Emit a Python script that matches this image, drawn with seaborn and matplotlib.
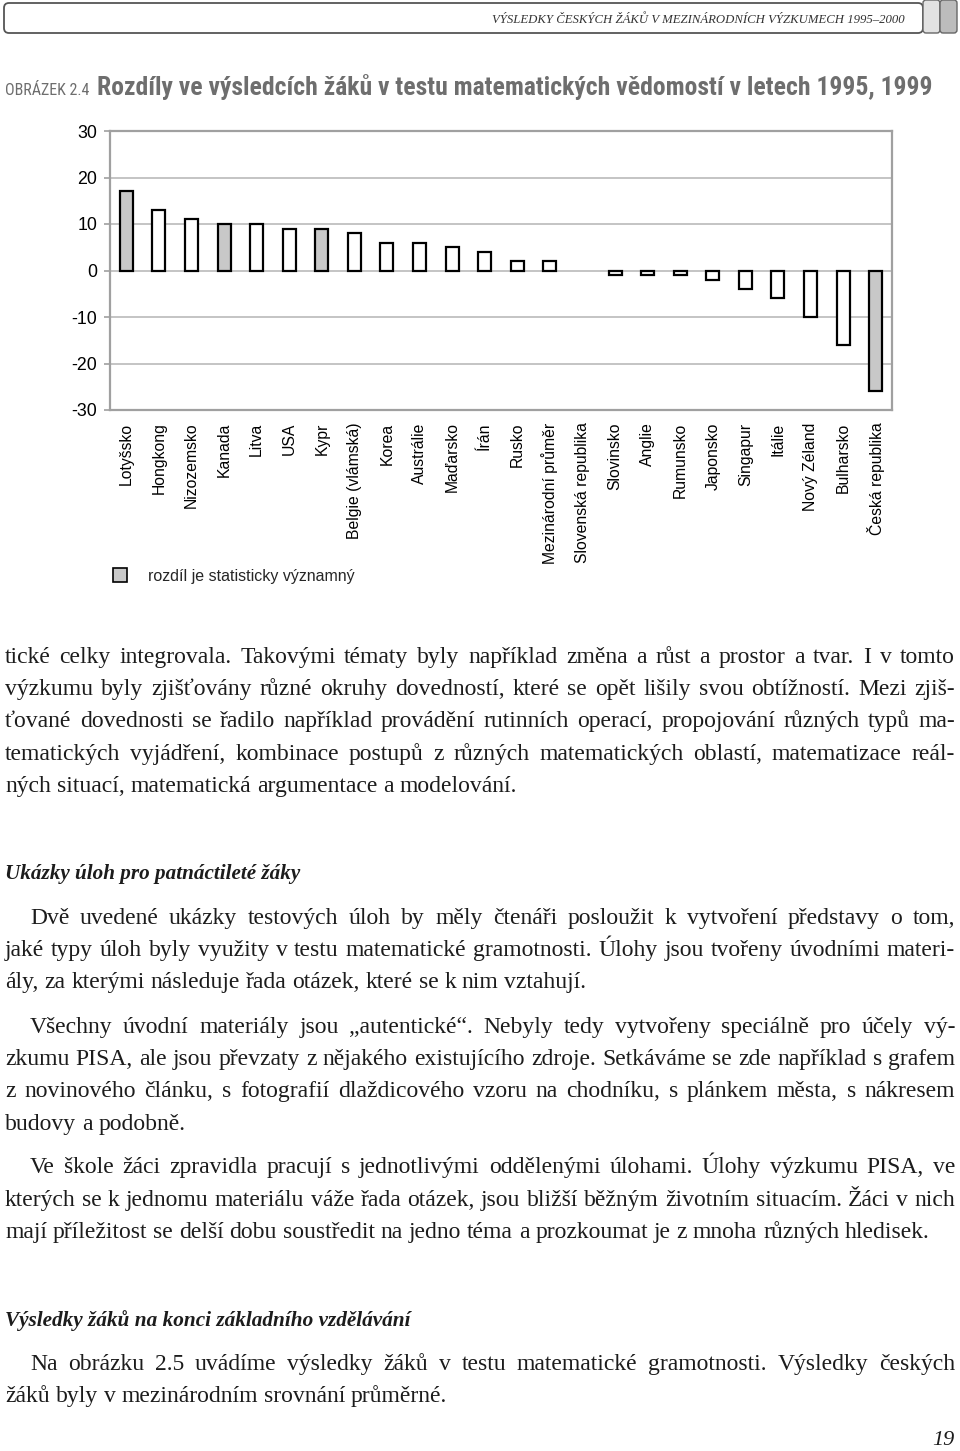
import numpy as np
import pandas as pd
import matplotlib
matplotlib.use("Agg")
import matplotlib.pyplot as plt
import seaborn as sns
from matplotlib import font_manager
from matplotlib.patches import FancyBboxPatch, Rectangle, Patch

# ---------------- data ----------------
countries = ["Lotyšsko", "Hongkong", "Nizozemsko", "Kanada", "Litva", "USA", "Kypr",
             "Belgie (vlámská)", "Korea", "Austrálie", "Maďarsko", "Írán", "Rusko",
             "Mezinárodní průměr", "Slovenská republika", "Slovinsko", "Anglie",
             "Rumunsko", "Japonsko", "Singapur", "Itálie", "Nový Zéland", "Bulharsko",
             "Česká republika"]
values = [17, 13, 11, 10, 10, 9, 9, 8, 6, 6, 5, 4, 2, 2, 0, -1, -1, -1, -2, -4, -6,
          -10, -16, -26]
significant = [True, False, False, True, False, False, True, False, False, False,
               False, False, False, False, False, False, False, False, False, False,
               False, False, False, True]
y_ticks = [-30, -20, -10, 0, 10, 20, 30]
legend_label = "rozdíl je statisticky významný"

header_text = "VÝSLEDKY ČESKÝCH ŽÁKŮ V MEZINÁRODNÍCH VÝZKUMECH 1995–2000"
fig_label = "OBRÁZEK 2.4"
title_text = "Rozdíly ve výsledcích žáků v testu matematických vědomostí v letech 1995, 1999"

par1 = ["tické celky integrovala. Takovými tématy byly například změna a růst a prostor a tvar. I v tomto",
        "výzkumu byly zjišťovány různé okruhy dovedností, které se opět lišily svou obtížností. Mezi zjiš-",
        "ťované dovednosti se řadilo například provádění rutinních operací, propojování různých typů ma-",
        "tematických vyjádření, kombinace postupů z různých matematických oblastí, matematizace reál-",
        "ných situací, matematická argumentace a modelování."]
head1 = "Ukázky úloh pro patnáctileté žáky"
par2 = ["Dvě uvedené ukázky testových úloh by měly čtenáři posloužit k vytvoření představy o tom,",
        "jaké typy úloh byly využity v testu matematické gramotnosti. Úlohy jsou tvořeny úvodními materi-",
        "ály, za kterými následuje řada otázek, které se k nim vztahují."]
par3 = ["Všechny úvodní materiály jsou „autentické“. Nebyly tedy vytvořeny speciálně pro účely vý-",
        "zkumu PISA, ale jsou převzaty z nějakého existujícího zdroje. Setkáváme se zde například s grafem",
        "z novinového článku, s fotografií dlaždicového vzoru na chodníku, s plánkem města, s nákresem",
        "budovy a podobně."]
par4 = ["Ve škole žáci zpravidla pracují s jednotlivými oddělenými úlohami. Úlohy výzkumu PISA, ve",
        "kterých se k jednomu materiálu váže řada otázek, jsou bližší běžným životním situacím. Žáci v nich",
        "mají příležitost se delší dobu soustředit na jedno téma a prozkoumat je z mnoha různých hledisek."]
head2 = "Výsledky žáků na konci základního vzdělávání"
par5 = ["Na obrázku 2.5 uvádíme výsledky žáků v testu matematické gramotnosti. Výsledky českých",
        "žáků byly v mezinárodním srovnání průměrné."]
page_no = "19"

# ---------------- setup ----------------
W, H = 960, 1451
sns.set_theme(style="white")
avail = {f.name for f in font_manager.fontManager.ttflist}


def pick(cands, default):
    for c in cands:
        if c in avail:
            return c
    return default


sans = pick(["Liberation Sans", "Arial"], "DejaVu Sans")
narrow = pick(["Liberation Sans Narrow", "Roboto Condensed", "DejaVu Sans Condensed"], sans)
serif = pick(["Liberation Serif", "DejaVu Serif"], "DejaVu Serif")
plt.rcParams["font.family"] = [sans, "DejaVu Sans"]

fig = plt.figure(figsize=(W / 100, H / 100), dpi=100)
fig.patch.set_facecolor("white")
renderer = fig.canvas.get_renderer()


def measure(s, **props):
    t = fig.text(0, 0, s, **props)
    w = t.get_window_extent(renderer).width
    t.remove()
    return w


def fx(px):
    return px / W


def fy(py):
    return 1 - py / H


def fit(s, target, base=20, **props):
    return base * target / measure(s, fontsize=base, **props)


# ---------------- header ----------------
box = FancyBboxPatch((0.04, (H - 33) / 100), 9.19, 0.30,
                     boxstyle="round,pad=0,rounding_size=0.05",
                     transform=fig.dpi_scale_trans, facecolor="white",
                     edgecolor="#555555", linewidth=1.3)
fig.patches.append(box)
g1 = FancyBboxPatch((9.23, (H - 33) / 100), 0.17, 0.33,
                    boxstyle="round,pad=0,rounding_size=0.03",
                    transform=fig.dpi_scale_trans, facecolor="#e2e2e2",
                    edgecolor="#666666", linewidth=1.0)
g2 = FancyBboxPatch((9.40, (H - 33) / 100), 0.17, 0.33,
                    boxstyle="round,pad=0,rounding_size=0.03",
                    transform=fig.dpi_scale_trans, facecolor="#bcbcbc",
                    edgecolor="#666666", linewidth=1.0)
fig.patches.extend([g1, g2])

hprops = dict(family=[serif], style="italic")
hs = fit(header_text, 410, **hprops)
fig.text(fx(905), fy(23), header_text, ha="right", va="baseline", fontsize=hs,
         color="#333333", **hprops)

# ---------------- title ----------------
tprops = dict(family=[narrow], weight="bold", stretch="condensed")
ts = fit(title_text, 833, **tprops)
fig.text(fx(97), fy(95), title_text, ha="left", va="baseline", fontsize=ts,
         color="#6e6e6e", **tprops)
lprops = dict(family=[narrow], stretch="condensed")
ls = fit(fig_label, 85, **lprops)
fig.text(fx(5), fy(95), fig_label, ha="left", va="baseline", fontsize=ls,
         color="#6e6e6e", **lprops)

# ---------------- chart ----------------
df = pd.DataFrame({"country": countries, "value": values,
                   "sig": ["ano" if s else "ne" for s in significant]})
ax = fig.add_axes([110 / W, 1 - 410 / H, 782 / W, 279 / H])
sns.barplot(data=df, x="country", y="value", hue="sig", order=countries,
            palette={"ano": "#c8c8c8", "ne": "white"}, dodge=False, width=0.4,
            edgecolor="black", linewidth=1.6, legend=False, ax=ax, zorder=3)
for p in ax.patches:
    if abs(p.get_height()) < 1e-9:
        p.set_linewidth(0)
ax.set_ylim(-30, 30)
ax.set_yticks(y_ticks)
ax.set_yticklabels([str(v) for v in y_ticks])
ax.set_xlim(-0.5, len(countries) - 0.5)
ax.set_xlabel("")
ax.set_ylabel("")
ax.grid(axis="y", color="#b4b4b4", linewidth=1.1, zorder=0)
ax.set_axisbelow(True)
for sp in ax.spines.values():
    sp.set_visible(True)
    sp.set_color("#a0a0a0")
    sp.set_linewidth(1.6)
ax.tick_params(axis="y", which="both", left=True, length=4, width=1.2,
               color="#a0a0a0", pad=5, labelsize=12.8, labelcolor="black")
ax.tick_params(axis="x", length=0, pad=9, labelsize=11.3, labelcolor="black")
for lab in ax.get_xticklabels():
    lab.set_rotation(90)
    lab.set_ha("center")
    lab.set_va("top")
ax.set_facecolor("white")

fig.legend(handles=[Patch(facecolor="#c8c8c8", edgecolor="black", linewidth=1.2,
                          label=legend_label)],
           loc="center left", bbox_to_anchor=(113 / W, fy(576)), frameon=False,
           fontsize=11.5, handlelength=0.9, handleheight=0.9, handletextpad=1.3,
           borderpad=0, borderaxespad=0)

# ---------------- body text ----------------
body = dict(family=[serif, "DejaVu Serif"])
all_lines = par1[:-1] + par2[:-1] + par3[:-1] + par4[:-1] + par5[:-1]
base = 16
maxw = max(measure(l, fontsize=base, **body) for l in all_lines)
bs = min(17.0, base * 946 / maxw)
bprops = dict(fontsize=bs, color="#1c1c1c", **body)
space_w = measure("a a", **bprops) - measure("aa", **bprops)


def line_out(text, x0, x1, yb, justify):
    words = text.split(" ")
    ws = [measure(w, **bprops) for w in words]
    if justify and len(words) > 1:
        gap = (x1 - x0 - sum(ws)) / (len(words) - 1)
    else:
        gap = space_w
    x = x0
    for w, wd in zip(words, ws):
        fig.text(fx(x), fy(yb), w, ha="left", va="baseline", **bprops)
        x += wd + gap


def paragraph(lines, ys, indent):
    for i, (l, y) in enumerate(zip(lines, ys)):
        x0 = 30 if (i == 0 and indent) else 5
        line_out(l, x0, 955, y + 6, i < len(lines) - 1)


paragraph(par1, [657, 689, 721, 754, 786], False)
hdprops = dict(family=[serif], style="italic", weight="bold")
h1s = fit(head1, 295, **hdprops)
fig.text(fx(5), fy(879), head1, ha="left", va="baseline", fontsize=h1s,
         color="#1c1c1c", **hdprops)
paragraph(par2, [918, 950, 982], True)
paragraph(par3, [1027, 1059, 1091, 1124], True)
paragraph(par4, [1167, 1200, 1232], True)
h2s = fit(head2, 405, **hdprops)
fig.text(fx(5), fy(1326), head2, ha="left", va="baseline", fontsize=h2s,
         color="#1c1c1c", **hdprops)
paragraph(par5, [1364, 1396], True)
fig.text(fx(954), fy(1445), page_no, ha="right", va="baseline", fontsize=bs - 1,
         style="italic", family=[serif], color="#1c1c1c")

fig.savefig("out.png", dpi=100, facecolor="white")
